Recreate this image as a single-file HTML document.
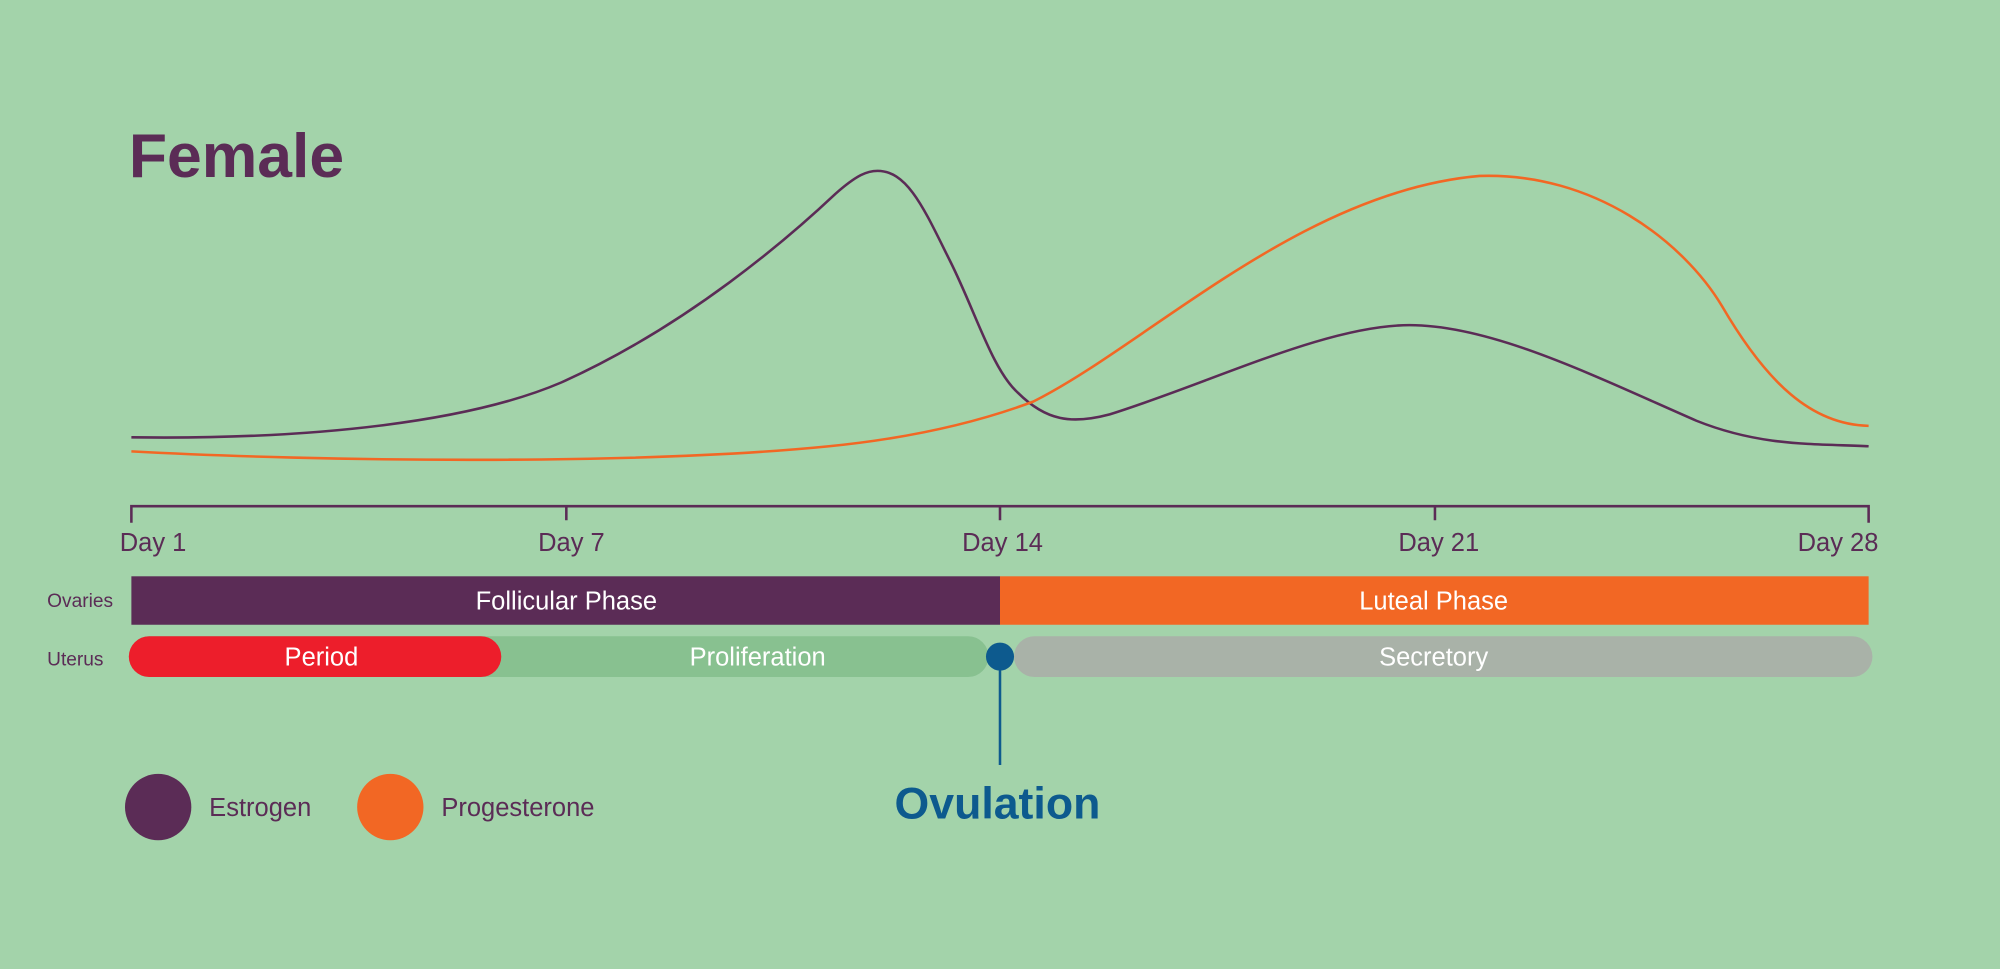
<!DOCTYPE html>
<html><head><meta charset="utf-8"><style>
html,body{margin:0;padding:0;background:#a3d3aa;}
svg{display:block;}
text{font-family:"Liberation Sans",sans-serif;}
</style></head><body>
<svg width="2000" height="969" viewBox="0 0 1568 760" preserveAspectRatio="none" xmlns="http://www.w3.org/2000/svg">
<rect width="1568" height="760" fill="#a3d3aa"/>
<text x="101" y="139" font-size="49" font-weight="bold" fill="#5b2c56">Female</text>
<path d="M103,343 C250,345 370,330 440,300 C540,255 620,185 655,152 C672,137 680,134 688,134 C712,134 725,165 745,205 C765,245 778,290 798,308 C820,330 840,333 870,325 C950,300 1040,255 1105,255 C1170,255 1250,295 1330,330 C1380,350 1420,348 1465,350" fill="none" stroke="#5b2c56" stroke-width="2"/>
<path d="M103,354 C250,362 500,365 650,350 C720,343 770,330 810,315 C900,270 1020,150 1160,138 C1250,135 1320,190 1350,240 C1385,300 1420,333 1465,334" fill="none" stroke="#f26724" stroke-width="2"/>
<g stroke="#5b2c56" stroke-width="2" fill="none">
<path d="M103,410 V397 H1465 V410"/>
<path d="M444,397 V408 M784,397 V408 M1125,397 V408"/>
</g>
<g font-size="20" fill="#5b2c56" text-anchor="middle">
<text x="120" y="432">Day 1</text>
<text x="448" y="432">Day 7</text>
<text x="786" y="432">Day 14</text>
<text x="1128" y="432">Day 21</text>
<text x="1441" y="432">Day 28</text>
</g>
<text x="37" y="476" font-size="15" fill="#5b2c56">Ovaries</text>
<text x="37" y="522" font-size="15" fill="#5b2c56">Uterus</text>
<rect x="103" y="452" width="681" height="38" fill="#5b2c56"/>
<rect x="784" y="452" width="681" height="38" fill="#f26724"/>
<text x="444" y="478" font-size="20" fill="#fff" text-anchor="middle">Follicular Phase</text>
<text x="1124" y="478" font-size="20" fill="#fff" text-anchor="middle">Luteal Phase</text>
<rect x="101" y="499" width="674" height="32" rx="16" fill="#88c190"/>
<rect x="101" y="499" width="292" height="32" rx="16" fill="#ed1e2b"/>
<rect x="795" y="499" width="673" height="32" rx="16" fill="#a9b2a8"/>
<text x="252" y="522" font-size="20" fill="#fff" text-anchor="middle">Period</text>
<text x="594" y="522" font-size="20" fill="#fff" text-anchor="middle">Proliferation</text>
<text x="1124" y="522" font-size="20" fill="#fff" text-anchor="middle">Secretory</text>
<line x1="784" y1="515" x2="784" y2="600" stroke="#0d5a8e" stroke-width="2"/>
<circle cx="784" cy="515" r="11" fill="#0d5a8e"/>
<text x="782" y="642" font-size="35" font-weight="bold" fill="#0d5a8e" text-anchor="middle">Ovulation</text>
<circle cx="124" cy="633" r="26" fill="#5b2c56"/>
<circle cx="306" cy="633" r="26" fill="#f26724"/>
<text x="164" y="640" font-size="20" fill="#5b2c56">Estrogen</text>
<text x="346" y="640" font-size="20" fill="#5b2c56">Progesterone</text>
</svg>
</body></html>
